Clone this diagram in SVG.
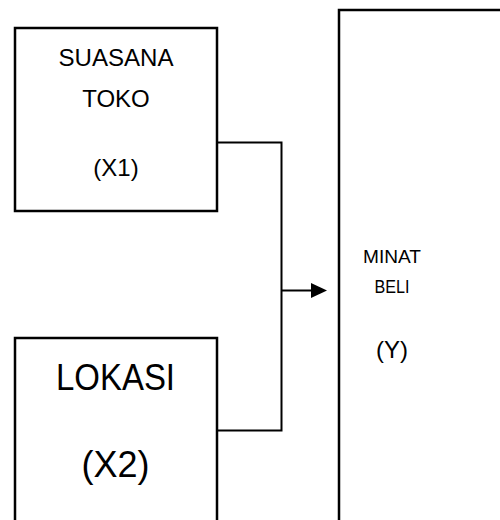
<svg xmlns="http://www.w3.org/2000/svg" width="500" height="520" viewBox="0 0 500 520">
<style>
.box{fill:#fff;stroke:#000;stroke-width:2.5}
.t{font-family:"Liberation Sans",Arial,sans-serif;fill:#000;text-anchor:middle}
.c{fill:none;stroke:#000;stroke-width:2}
</style>
<rect width="500" height="520" fill="#fff"/>
<g id="connectors">
<polyline class="c" points="214,142.5 281.5,142.5 281.5,430.5 217,430.5"/>
<line class="c" x1="281.5" y1="290.5" x2="312" y2="290.5"/>
<path d="M311,283 L327,290.5 L311,298 Z" fill="#000"/>
</g>
<g id="x1">
<rect class="box" x="15" y="28" width="202" height="183"/>
<text class="t" x="116" y="66" font-size="24" textLength="115" lengthAdjust="spacingAndGlyphs">SUASANA</text>
<text class="t" x="116" y="107" font-size="24">TOKO</text>
<text class="t" x="116" y="176" font-size="24">(X1)</text>
</g>
<g id="x2">
<rect class="box" x="15" y="338" width="202" height="200"/>
<text class="t" x="115.5" y="390" font-size="36" textLength="119" lengthAdjust="spacingAndGlyphs">LOKASI</text>
<text class="t" x="115.5" y="477" font-size="36">(X2)</text>
</g>
<g id="y">
<rect class="box" x="339" y="10" width="180" height="530"/>
<text class="t" x="392" y="263" font-size="18" textLength="58" lengthAdjust="spacingAndGlyphs">MINAT</text>
<text class="t" x="392" y="293" font-size="18" textLength="35" lengthAdjust="spacingAndGlyphs">BELI</text>
<text class="t" x="392" y="358" font-size="24">(Y)</text>
</g>
</svg>
